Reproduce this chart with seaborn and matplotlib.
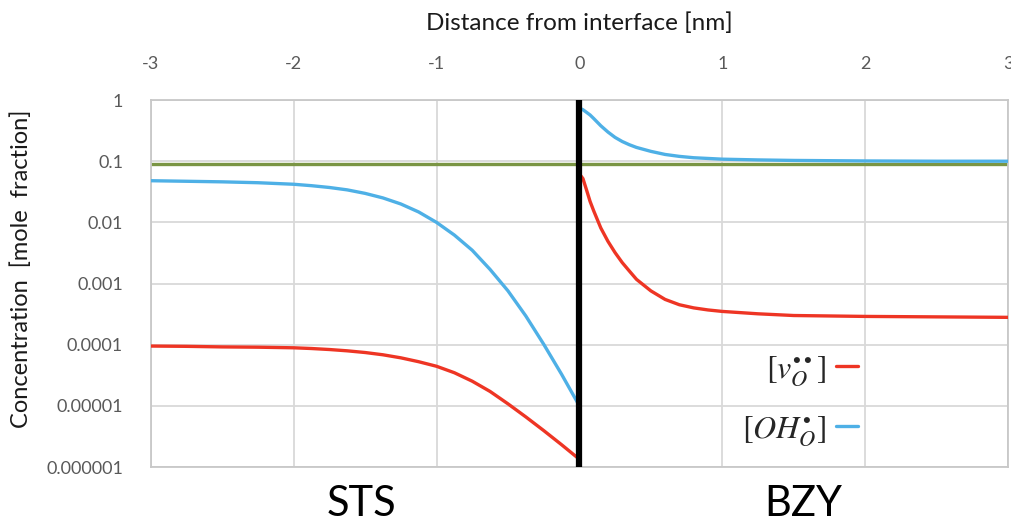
import matplotlib
matplotlib.use("Agg")
import matplotlib.pyplot as plt
import matplotlib.lines as mlines
import pandas as pd
import seaborn as sns

# Distance from the STS/BZY interface (nm) and concentrations (mole fraction)
x_sts = [-3.0, -2.75, -2.5, -2.25, -2.0, -1.875, -1.75, -1.625, -1.5, -1.375,
         -1.25, -1.125, -1.0, -0.875, -0.75, -0.625, -0.5, -0.375, -0.25,
         -0.125, 0.0]
oh_sts = [0.048, 0.047, 0.046, 0.0445, 0.042, 0.0398, 0.0372, 0.034, 0.0298,
          0.0251, 0.020, 0.0148, 0.010, 0.0062, 0.0035, 0.0017, 0.00076,
          0.000295, 0.000102, 0.000033, 0.00001]
vo_sts = [9.5e-5, 9.4e-5, 9.2e-5, 9.1e-5, 8.9e-5, 8.66e-5, 8.34e-5, 7.94e-5,
          7.45e-5, 6.84e-5, 6.1e-5, 5.27e-5, 4.44e-5, 3.48e-5, 2.53e-5,
          1.72e-5, 1.08e-5, 6.6e-6, 3.95e-6, 2.32e-6, 1.34e-6]

x_bzy = [0.0, 0.025, 0.05, 0.075, 0.1, 0.15, 0.2, 0.25, 0.3, 0.35, 0.4, 0.5,
         0.6, 0.7, 0.8, 0.9, 1.0, 1.25, 1.5, 2.0, 2.5, 3.0]
oh_bzy = [0.74, 0.695, 0.63, 0.57, 0.50, 0.38, 0.30, 0.245, 0.21, 0.186,
          0.168, 0.145, 0.129, 0.120, 0.114, 0.111, 0.108, 0.105, 0.103,
          0.101, 0.100, 0.100]
vo_bzy = [0.062, 0.052, 0.034, 0.022, 0.0155, 0.0081, 0.0049, 0.0032, 0.0022,
          0.0016, 0.00117, 0.00076, 0.00055, 0.00045, 0.00040, 0.00037,
          0.00035, 0.00032, 0.00030, 0.00029, 0.000285, 0.00028]

bulk_level = 0.09          # horizontal reference level
interface_x = 0.0          # position of the interface

x_ticks = [-3, -2, -1, 0, 1, 2, 3]
y_ticks = [1e-6, 1e-5, 1e-4, 1e-3, 1e-2, 1e-1, 1]
y_tick_labels = ["0.000001", "0.00001", "0.0001", "0.001", "0.01", "0.1", "1"]

species = ["vo", "oh"]
species_labels = [r"$[v_O^{\bullet\bullet}]$", r"$[OH_O^{\bullet}]$"]
colors = {"vo": "#EE3524", "oh": "#4EB0E6"}

frames = []
for side, xs, oh, vo in [("STS", x_sts, oh_sts, vo_sts), ("BZY", x_bzy, oh_bzy, vo_bzy)]:
    frames.append(pd.DataFrame({"x": xs, "c": oh, "species": "oh", "side": side}))
    frames.append(pd.DataFrame({"x": xs, "c": vo, "species": "vo", "side": side}))
df = pd.concat(frames, ignore_index=True)

sns.set_theme(style="whitegrid")
plt.rcParams["font.family"] = ["Lato", "DejaVu Sans"]
plt.rcParams["mathtext.fontset"] = "stix"

fig = plt.figure(figsize=(10.12, 5.28), dpi=100)
ax = fig.add_axes([0.149, 0.1155, 0.847, 0.695])

ax.axhline(bulk_level, color="#7A9544", lw=2.4, zorder=2)
sns.lineplot(data=df, x="x", y="c", hue="species", units="side", estimator=None,
             palette=colors, lw=2.4, legend=False, ax=ax, zorder=3)
ax.axvline(interface_x, color="black", lw=4.5, zorder=4)

ax.set_yscale("log")
ax.set_xlim(-3, 3)
ax.set_ylim(1e-6, 1)
ax.set_yticks(y_ticks)
ax.set_yticklabels(y_tick_labels)
ax.yaxis.set_minor_locator(matplotlib.ticker.NullLocator())
ax.set_xticks(x_ticks)
ax.set_xticklabels([str(t) for t in x_ticks])

ax.xaxis.tick_top()
ax.xaxis.set_label_position("top")
ax.tick_params(axis="both", length=0, labelsize=13, labelcolor="#595959")
ax.tick_params(axis="x", pad=20)
ax.tick_params(axis="y", pad=20)

ax.grid(True, color="#D9D9D9", lw=1.3)
for s in ax.spines.values():
    s.set_color("#C8C8C8")
    s.set_linewidth(1.3)

ax.set_xlabel("Distance from interface [nm]", fontsize=17.5, color="#1A1A1A", labelpad=19)
ax.set_ylabel("Concentration  [mole  fraction]", fontsize=17, color="#1A1A1A")
ax.yaxis.set_label_coords(-0.139, 0.54)

ax.text(0.246, -0.10, "STS", transform=ax.transAxes, ha="center", va="center",
        fontsize=30, color="black")
ax.text(0.761, -0.10, "BZY", transform=ax.transAxes, ha="center", va="center",
        fontsize=30, color="black")

handles = [mlines.Line2D([], [], color=colors[s], lw=2.4) for s in species]
ax.legend(handles, species_labels, loc="upper right", bbox_to_anchor=(0.84, 0.345),
          frameon=False, markerfirst=False, fontsize=23, handlelength=0.7,
          handletextpad=0.3, labelspacing=0.8, borderaxespad=0)

fig.savefig("out.png", dpi=100)
